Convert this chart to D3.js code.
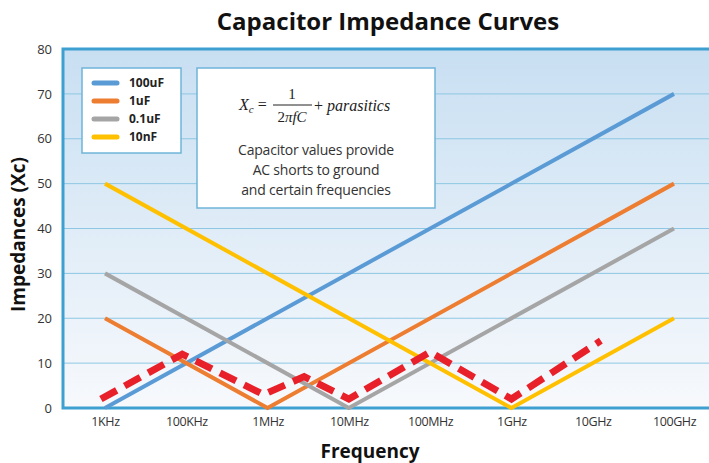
<!DOCTYPE html>
<html>
<head>
<meta charset="utf-8">
<script src="https://cdn.jsdelivr.net/npm/d3@7"></script>
<style>
  body { margin: 0; background: #fff; }
  svg text { font-family: "Open Sans", "Noto Sans", sans-serif; }
</style>
</head>
<body>
<div id="container"></div>
<script>
/* DATA */
const freqLabels = ["1KHz", "100KHz", "1MHz", "10MHz", "100MHz", "1GHz", "10GHz", "100GHz"];
const yTicks = [0, 10, 20, 30, 40, 50, 60, 70, 80];

// each series: [category index, impedance]
const cap100uF = [[0, 0], [7, 70]];
const cap1uF = [[0, 20], [2, 0], [7, 50]];
const cap01uF = [[0, 30], [3, 0], [7, 40]];
const cap10nF = [[0, 50], [5, 0], [7, 20]];
const parasitic = [[-0.05, 2], [0.95, 12], [1.95, 3], [2.45, 7], [3, 2], [4, 12.5], [5, 2], [6.1, 15]];

const seriesNames = ["100uF", "1uF", "0.1uF", "10nF"];
const seriesColors = ["#5b9bd5", "#ed7d31", "#a5a5a5", "#ffc000"];

/* CONSTANTS */
const width = 709, height = 463;
const margin = { top: 50, bottom: 55, left: 63, right: 0 };

const svg = d3.select("#container")
  .append("svg")
  .attr("width", width)
  .attr("height", height);

const xScale = d3.scaleLinear()
  .domain([0, freqLabels.length - 1])
  .range([105, 674]);

const yScale = d3.scaleLinear()
  .domain([0, 80])
  .range([height - margin.bottom, margin.top - 1]);

// background gradient
const grad = svg.append("defs").append("linearGradient")
  .attr("id", "bg").attr("x1", 0).attr("y1", 0).attr("x2", 0).attr("y2", 1);
grad.append("stop").attr("offset", "0%").attr("stop-color", "#c8dff2");
grad.append("stop").attr("offset", "100%").attr("stop-color", "#f7f9fc");

svg.append("rect")
  .attr("x", margin.left)
  .attr("y", yScale(80))
  .attr("width", width - margin.left)
  .attr("height", yScale(0) - yScale(80))
  .attr("fill", "url(#bg)");

// gridlines
svg.append("g")
  .selectAll("line")
  .data(yTicks.slice(1, -1))
  .join("line")
  .attr("x1", margin.left)
  .attr("x2", width)
  .attr("y1", d => yScale(d))
  .attr("y2", d => yScale(d))
  .attr("stroke", "#8ec7e3")
  .attr("stroke-width", 1);

// frame (left, top, bottom)
svg.append("path")
  .attr("d", `M${width},${yScale(80)}H${margin.left}V${yScale(0)}H${width}`)
  .attr("fill", "none")
  .attr("stroke", "#3e9fd1")
  .attr("stroke-width", 3);

// + AXES
const yAxis = d3.axisLeft(yScale).tickValues(yTicks).tickSize(0).tickPadding(11);
svg.append("g")
  .attr("transform", `translate(${margin.left},0)`)
  .call(yAxis)
  .call(g => g.select(".domain").remove())
  .selectAll("text")
  .attr("font-size", 13)
  .attr("fill", "#333");

const xAxis = d3.axisBottom(xScale)
  .tickValues(d3.range(freqLabels.length))
  .tickFormat(i => freqLabels[i])
  .tickSize(0)
  .tickPadding(9);
svg.append("g")
  .attr("transform", `translate(0,${yScale(0)})`)
  .call(xAxis)
  .call(g => g.select(".domain").remove())
  .selectAll("text")
  .attr("font-size", 12.5)
  .attr("letter-spacing", "-0.4px")
  .attr("fill", "#333");

// + LINES
const line = d3.line()
  .x(d => xScale(d[0]))
  .y(d => yScale(d[1]));

const allSeries = [cap100uF, cap1uF, cap01uF, cap10nF];
svg.append("g")
  .selectAll("path")
  .data(allSeries)
  .join("path")
  .attr("d", line)
  .attr("fill", "none")
  .attr("stroke", (d, i) => seriesColors[i])
  .attr("stroke-width", 4)
  .attr("stroke-linejoin", "miter");

svg.append("path")
  .datum(parasitic)
  .attr("d", line)
  .attr("fill", "none")
  .attr("stroke", "#e8202a")
  .attr("stroke-width", 7)
  .attr("stroke-dasharray", "18,9");

// + LEGEND
const legend = svg.append("g");
legend.append("rect")
  .attr("x", 82).attr("y", 68)
  .attr("width", 99).attr("height", 85)
  .attr("fill", "#fff")
  .attr("stroke", "#6fb4d9")
  .attr("stroke-width", 1.5);

const items = legend.selectAll("g")
  .data(seriesNames)
  .join("g")
  .attr("transform", (d, i) => `translate(0,${83 + i * 18})`);
items.append("line")
  .attr("x1", 94).attr("x2", 117)
  .attr("stroke", (d, i) => seriesColors[i])
  .attr("stroke-width", 5)
  .attr("stroke-linecap", "round");
items.append("text")
  .attr("x", 129)
  .attr("dy", "0.35em")
  .attr("font-size", 12)
  .attr("font-weight", "bold")
  .attr("fill", "#222")
  .text(d => d);

// + FORMULA BOX
const box = svg.append("g");
box.append("rect")
  .attr("x", 197).attr("y", 68)
  .attr("width", 238).attr("height", 140)
  .attr("fill", "#fff")
  .attr("stroke", "#6fb4d9")
  .attr("stroke-width", 1.5);

const serif = "'Liberation Serif', 'DejaVu Serif', serif";
const math = box.append("g").attr("fill", "#222");
math.append("text")
  .attr("x", 239).attr("y", 110)
  .attr("font-size", 16)
  .attr("font-style", "italic")
  .style("font-family", serif)
  .html('X<tspan font-size="11" dy="3">c</tspan><tspan dy="-3" font-style="normal" dx="4">=</tspan>');
math.append("text")
  .attr("x", 292).attr("y", 99)
  .attr("text-anchor", "middle")
  .attr("font-size", 15)
  .style("font-family", serif)
  .text("1");
math.append("line")
  .attr("x1", 273).attr("x2", 312)
  .attr("y1", 105).attr("y2", 105)
  .attr("stroke", "#222").attr("stroke-width", 1);
math.append("text")
  .attr("x", 292).attr("y", 122)
  .attr("text-anchor", "middle")
  .attr("font-size", 15)
  .attr("font-style", "italic")
  .style("font-family", serif)
  .html('<tspan font-style="normal">2</tspan>πfC');
math.append("text")
  .attr("x", 314).attr("y", 111)
  .attr("font-size", 16)
  .attr("font-style", "italic")
  .style("font-family", serif)
  .html('<tspan font-style="normal">+</tspan> parasitics');

const note = ["Capacitor values provide", "AC shorts to ground", "and certain frequencies"];
box.append("g")
  .selectAll("text")
  .data(note)
  .join("text")
  .attr("x", 316)
  .attr("y", (d, i) => 155 + i * 20)
  .attr("text-anchor", "middle")
  .attr("font-size", 14)
  .attr("letter-spacing", "-0.2px")
  .attr("fill", "#333")
  .text(d => d);

// + TITLES
svg.append("text")
  .attr("x", 388).attr("y", 30)
  .attr("text-anchor", "middle")
  .attr("font-size", 24)
  .attr("font-weight", "bold")
  .attr("fill", "#111")
  .text("Capacitor Impedance Curves");

svg.append("text")
  .attr("transform", `translate(25,${(yScale(0) + yScale(80)) / 2 + 6}) rotate(-90)`)
  .attr("text-anchor", "middle")
  .attr("font-size", 19)
  .attr("font-weight", "bold")
  .attr("fill", "#111")
  .text("Impedances (Xc)");

svg.append("text")
  .attr("x", 370).attr("y", 458)
  .attr("text-anchor", "middle")
  .attr("font-size", 19)
  .attr("font-weight", "bold")
  .attr("fill", "#111")
  .text("Frequency");
</script>
</body>
</html>
